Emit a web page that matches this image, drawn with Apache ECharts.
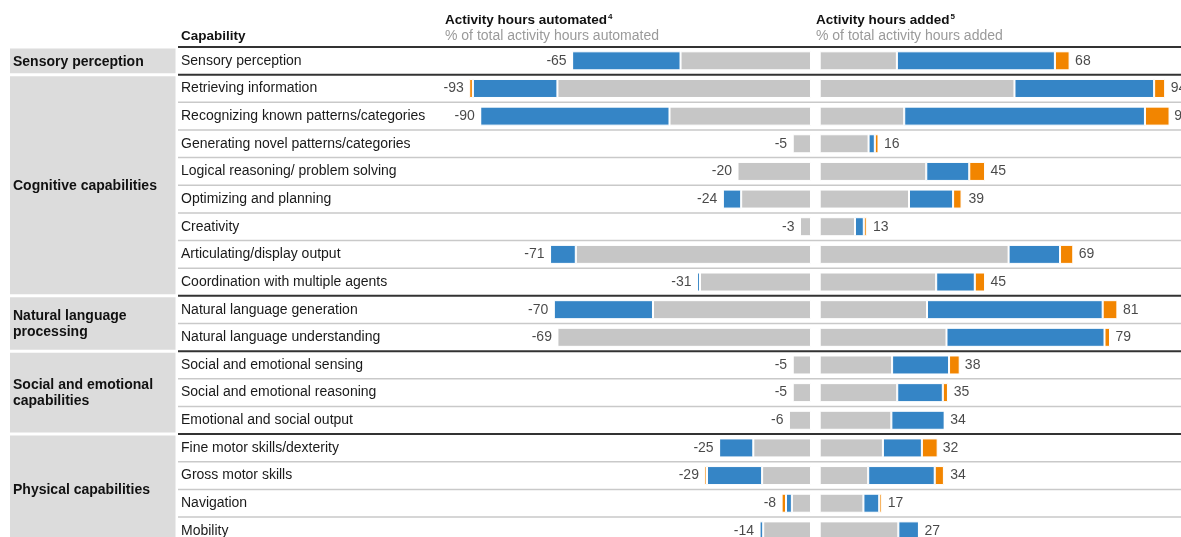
<!DOCTYPE html>
<html><head><meta charset="utf-8">
<script src="https://cdn.jsdelivr.net/npm/echarts@6/dist/echarts.min.js"></script>
<style>html,body{margin:0;padding:0;background:#fff}#c{width:1181px;height:537px}</style>
</head><body><div id="c"></div>
<script>
// ---- data ----
const capabilities = [
  'Sensory perception',
  'Retrieving information',
  'Recognizing known patterns/categories',
  'Generating novel patterns/categories',
  'Logical reasoning/ problem solving',
  'Optimizing and planning',
  'Creativity',
  'Articulating/display output',
  'Coordination with multiple agents',
  'Natural language generation',
  'Natural language understanding',
  'Social and emotional sensing',
  'Social and emotional reasoning',
  'Emotional and social output',
  'Fine motor skills/dexterity',
  'Gross motor skills',
  'Navigation',
  'Mobility'
];
const groupNames = ['Sensory perception', 'Cognitive capabilities', 'Natural language\nprocessing', 'Social and emotional\ncapabilities', 'Physical capabilities'];
const groupSizes = [1, 8, 2, 3, 4];

// Activity hours automated (% of total), segments shown as magnitudes
const autoGray   = [35.5, 69, 38.5, 5, 20, 19, 3, 64, 30.2, 43, 69, 5, 5, 6, 15.7, 13.3, 5.2, 13];
const autoBlue   = [29.5, 23, 51.5, 0, 0, 5, 0, 7, 0.8, 27, 0, 0, 0, 0, 9.3, 15, 1.6, 1];
const autoOrange = [0, 1, 0, 0, 0, 0, 0, 0, 0, 0, 0, 0, 0, 0, 0, 0.7, 1.2, 0];
const autoTotals = [-65, -93, -90, -5, -20, -24, -3, -71, -31, -70, -69, -5, -5, -6, -25, -29, -8, -14];

// Activity hours added (% of total)
const addGray   = [21, 53, 23, 13.3, 29, 24.3, 9.6, 51.4, 31.7, 29.2, 34.5, 19.7, 21.1, 19.5, 17.2, 13.2, 11.9, 21.4];
const addBlue   = [43, 38, 65.5, 1.7, 11.7, 12, 2.4, 14, 10.5, 47.8, 43, 15.5, 12.4, 14.5, 10.6, 18.1, 4.3, 5.6];
const addOrange = [4, 3, 6.7, 1, 4.3, 2.3, 0.8, 3.6, 2.8, 4, 1.5, 2.9, 1.4, 0, 4.3, 2.5, 0.7, 0];
const addTotals = [68, 94, 95, 16, 45, 39, 13, 69, 45, 81, 79, 38, 35, 34, 32, 34, 17, 27];

// ---- layout/style ----
const FONT = "'Liberation Sans', Arial, Helvetica, sans-serif";
const GRAY = '#c6c6c6', BLUE = '#3585c6', ORANGE = '#f28500';
const TOP = 47, ROWH = 27.65, H = ROWH * capabilities.length;
const UNIT = 3.675;

// group start rows
const groupStart = [];
{ let s = 0; groupSizes.forEach(n => { groupStart.push(s); s += n; }); }
const sepData = capabilities.map((c, i) => [0, i, groupStart.indexOf(i) >= 0 ? 1 : 0]);
const groupData = groupNames.map((g, k) => [0, groupStart[k], k]);

const chart = echarts.init(document.getElementById('c'), null, {renderer: 'canvas'});

const catAxis = (gi, show) => ({
  type: 'category', gridIndex: gi, data: capabilities, inverse: true,
  axisLine: {show: false}, axisTick: {show: false}, splitLine: {show: false},
  axisLabel: show ? {show: true, align: 'left', margin: -3, fontSize: 14, color: '#1a1a1a', fontFamily: FONT, padding: [2, 0, 0, 0]} : {show: false}
});
const hidVal = (gi, min, max) => ({
  type: 'value', gridIndex: gi, min, max, show: false,
  axisLine: {show: false}, axisTick: {show: false}, splitLine: {show: false}, axisLabel: {show: false}
});
const mkGrid = (left, width) => ({left, width, top: TOP, height: H, containLabel: false, outerBoundsMode: 'none'});

const barCommon = {
  type: 'bar', barWidth: 19, stackStrategy: 'all',
  itemStyle: {borderColor: '#ffffff', borderWidth: 1}
};

const option = {
  animation: false,
  backgroundColor: '#ffffff',
  textStyle: {fontFamily: FONT},
  title: [
    {text: 'Capability', left: 181, top: 29, padding: 0,
     textStyle: {fontSize: 13.5, fontWeight: 'bold', color: '#111', fontFamily: FONT}},
    {text: '{a|Activity hours automated}{s|4}', left: 445, top: 13, padding: 0, itemGap: 2,
     textStyle: {rich: {a: {fontSize: 13.5, fontWeight: 'bold', color: '#111', fontFamily: FONT},
                        s: {fontSize: 8, color: '#111', fontFamily: FONT, verticalAlign: 'top', padding: [0, 0, 0, 1]}}},
     subtext: '% of total activity hours automated',
     subtextStyle: {fontSize: 14, color: '#9a9a9a', fontFamily: FONT}},
    {text: '{a|Activity hours added}{s|5}', left: 816, top: 13, padding: 0, itemGap: 2,
     textStyle: {rich: {a: {fontSize: 13.5, fontWeight: 'bold', color: '#111', fontFamily: FONT},
                        s: {fontSize: 8, color: '#111', fontFamily: FONT, verticalAlign: 'top', padding: [0, 0, 0, 1]}}},
     subtext: '% of total activity hours added',
     subtextStyle: {fontSize: 14, color: '#9a9a9a', fontFamily: FONT}}
  ],
  grid: [
    mkGrid(178, 1181 - 178),            // labels + separators
    mkGrid(10, 165.5),                  // group boxes
    mkGrid(811 - 100 * UNIT, 100 * UNIT), // automated
    mkGrid(819.7, 97 * UNIT)            // added
  ],
  xAxis: [hidVal(0, 0, 1), hidVal(1, 0, 1), hidVal(2, -100, 0), hidVal(3, 0, 97)],
  yAxis: [catAxis(0, true), catAxis(1, false), catAxis(2, false), catAxis(3, false)],
  series: [
    {
      type: 'custom', xAxisIndex: 0, yAxisIndex: 0, silent: true, z: 1,
      data: sepData, encode: {x: 0, y: 1},
      renderItem: function (params, api) {
        const idx = api.value(1);
        const band = api.size([0, 1])[1];
        const p0 = api.coord([0, idx]);
        const p1 = api.coord([1, idx]);
        const y = p0[1] - band / 2;
        const strong = api.value(2) === 1;
        return {
          type: 'line',
          shape: {x1: p0[0], y1: y, x2: p1[0] + 2, y2: y},
          style: {stroke: strong ? '#333333' : '#c9c9c9', lineWidth: strong ? 2 : 1.5}
        };
      }
    },
    {
      type: 'custom', xAxisIndex: 1, yAxisIndex: 1, silent: true, z: 1,
      data: groupData, encode: {x: 0, y: 1},
      renderItem: function (params, api) {
        const start = api.value(1);
        const k = api.value(2);
        const n = groupSizes[k];
        const band = api.size([0, 1])[1];
        const a = api.coord([0, start]);
        const b = api.coord([1, start + n - 1]);
        const top = a[1] - band / 2 + 1.5;
        const bottom = b[1] + band / 2 - 1.5;
        return {
          type: 'group',
          children: [
            {type: 'rect', shape: {x: a[0], y: top, width: b[0] - a[0], height: bottom - top},
             style: {fill: '#dcdcdc'}},
            {type: 'text', x: a[0] + 3, y: (top + bottom) / 2 + 1,
             style: {text: groupNames[k], fill: '#111', font: 'bold 14px ' + FONT,
                     verticalAlign: 'middle', align: 'left', lineHeight: 16}}
          ]
        };
      }
    },
    Object.assign({}, barCommon, {name: 'autoGray', xAxisIndex: 2, yAxisIndex: 2, stack: 'auto',
      itemStyle: Object.assign({}, barCommon.itemStyle, {color: GRAY}), data: autoGray.map(v => -v)}),
    Object.assign({}, barCommon, {name: 'autoBlue', xAxisIndex: 2, yAxisIndex: 2, stack: 'auto',
      itemStyle: Object.assign({}, barCommon.itemStyle, {color: BLUE}), data: autoBlue.map(v => -v)}),
    Object.assign({}, barCommon, {name: 'autoOrange', xAxisIndex: 2, yAxisIndex: 2, stack: 'auto',
      itemStyle: Object.assign({}, barCommon.itemStyle, {color: ORANGE}), data: autoOrange.map(v => -v)}),
    {
      type: 'scatter', xAxisIndex: 2, yAxisIndex: 2, symbol: 'rect', symbolSize: 1,
      itemStyle: {color: 'rgba(0,0,0,0)'}, silent: true,
      data: autoTotals.map((v, i) => [v, i]),
      label: {show: true, position: 'left', distance: 5, fontSize: 14, color: '#1a1a1a', fontFamily: FONT,
              formatter: p => String(p.value[0])}
    },
    Object.assign({}, barCommon, {name: 'addGray', xAxisIndex: 3, yAxisIndex: 3, stack: 'add',
      itemStyle: Object.assign({}, barCommon.itemStyle, {color: GRAY}), data: addGray}),
    Object.assign({}, barCommon, {name: 'addBlue', xAxisIndex: 3, yAxisIndex: 3, stack: 'add',
      itemStyle: Object.assign({}, barCommon.itemStyle, {color: BLUE}), data: addBlue}),
    Object.assign({}, barCommon, {name: 'addOrange', xAxisIndex: 3, yAxisIndex: 3, stack: 'add',
      itemStyle: Object.assign({}, barCommon.itemStyle, {color: ORANGE}), data: addOrange}),
    {
      type: 'scatter', xAxisIndex: 3, yAxisIndex: 3, symbol: 'rect', symbolSize: 1,
      itemStyle: {color: 'rgba(0,0,0,0)'}, silent: true, clip: false,
      data: addTotals.map((v, i) => [v, i]),
      label: {show: true, position: 'right', distance: 5, fontSize: 14, color: '#1a1a1a', fontFamily: FONT,
              formatter: p => String(p.value[0])}
    }
  ]
};
chart.setOption(option);
</script>
</body></html>
